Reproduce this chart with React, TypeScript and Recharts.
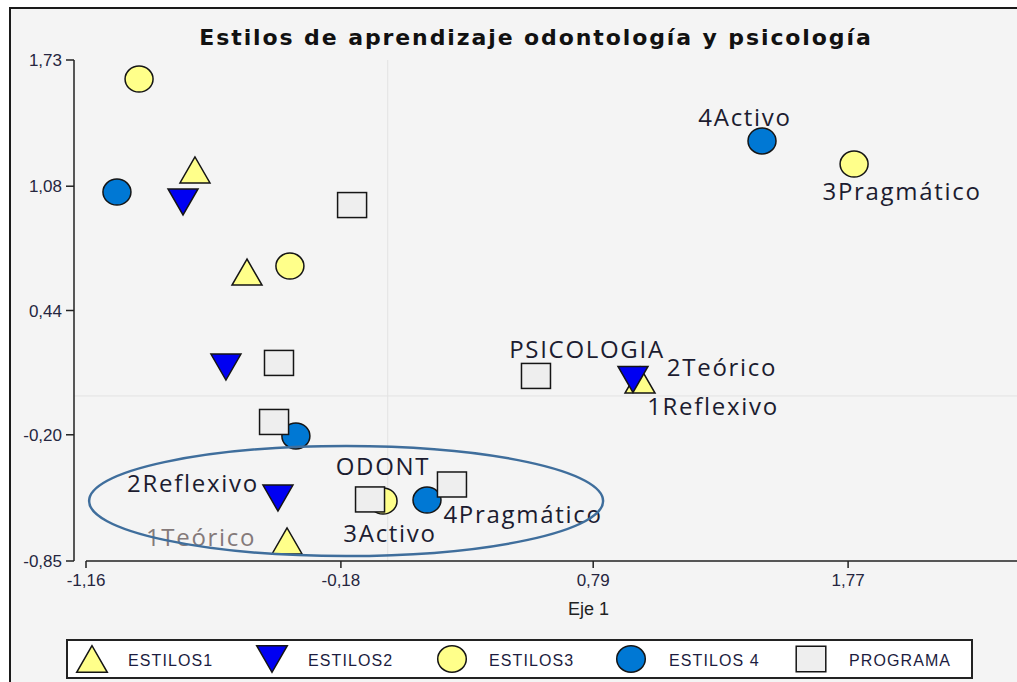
import React from 'react';
import { ScatterChart, Scatter, XAxis, YAxis, ReferenceLine, ReferenceDot } from 'recharts';

// ---------- data ----------
const xTicks = [-1.16, -0.18, 0.79, 1.77];
const yTicks = [1.73, 1.08, 0.44, -0.2, -0.85];

const estilos1X = [-0.741, -0.541, 0.97, -0.387];
const estilos1Y = [1.164, 0.638, 0.082, -0.747];
const estilos1Labels = ['', '', '1Reflexivo', '1Teórico'];

const estilos2X = [-0.787, -0.622, 0.943, -0.422];
const estilos2Y = [0.999, 0.149, 0.085, -0.526];
const estilos2Labels = ['', '', '2Teórico', '2Reflexivo'];

const estilos3X = [-0.956, -0.376, 1.793, -0.018];
const estilos3Y = [1.632, 0.669, 1.194, -0.541];
const estilos3Labels = ['', '', '3Pragmático', '3Activo'];

const estilos4X = [-1.041, 1.439, -0.353, 0.151];
const estilos4Y = [1.05, 1.313, -0.206, -0.536];
const estilos4Labels = ['', '4Activo', '', '4Pragmático'];

const programaX = [-0.137, -0.418, -0.437, 0.57, -0.068, 0.247];
const programaY = [0.983, 0.17, -0.134, 0.103, -0.533, -0.456];
const programaLabels = ['', '', '', 'PSICOLOGIA', 'ODONT', ''];

const seriesNames = ['ESTILOS1', 'ESTILOS2', 'ESTILOS3', 'ESTILOS 4', 'PROGRAMA'];

const ellipseCenter = { x: -0.16, y: -0.541 };

// ---------- styles ----------
const labelPlacement: Record<string, { dx: number; dy: number; color?: string }> = {
  '4Activo': { dx: -17, dy: -24 },
  '3Pragmático': { dx: 48, dy: 26 },
  PSICOLOGIA: { dx: 51, dy: -27 },
  '2Teórico': { dx: 89, dy: -13 },
  '1Reflexivo': { dx: 73, dy: 25 },
  ODONT: { dx: 13, dy: -34 },
  '2Reflexivo': { dx: -85, dy: -16 },
  '1Teórico': { dx: -86, dy: -4, color: '#857a7a' },
  '3Activo': { dx: 7, dy: 32 },
  '4Pragmático': { dx: 96, dy: 13 },
};

const YELLOW = '#FFFF8A';
const BLUE_TRI = '#0000F2';
const BLUE_CIRC = '#0078D4';
const GREY_SQ = '#EEEEEE';
const STROKE = '#151515';

type Kind = 'up' | 'down' | 'circle' | 'square';

const build = (xs: number[], ys: number[], labels: string[]) =>
  xs.map((x, i) => ({ x, y: ys[i], label: labels[i] }));

const markerPath = (kind: Kind, cx: number, cy: number, fill: string, scale = 1) => {
  const sw = 1.5;
  if (kind === 'up') {
    const w = 15 * scale, h = 13 * scale;
    return <polygon points={`${cx},${cy - h} ${cx - w},${cy + h} ${cx + w},${cy + h}`} fill={fill} stroke={STROKE} strokeWidth={sw} />;
  }
  if (kind === 'down') {
    const w = 15 * scale, h = 13 * scale;
    return <polygon points={`${cx - w},${cy - h} ${cx + w},${cy - h} ${cx},${cy + h}`} fill={fill} stroke={STROKE} strokeWidth={sw} />;
  }
  if (kind === 'circle') {
    return <ellipse cx={cx} cy={cy} rx={14 * scale} ry={13 * scale} fill={fill} stroke={STROKE} strokeWidth={sw} />;
  }
  return <rect x={cx - 14.5 * scale} y={cy - 12.5 * scale} width={29 * scale} height={25 * scale} fill={fill} stroke={STROKE} strokeWidth={sw} />;
};

const makeShape = (kind: Kind, fill: string) => (props: any) => {
  const { cx, cy } = props;
  const label: string = props.payload?.label ?? props.label ?? '';
  const place = label ? labelPlacement[label] : undefined;
  return (
    <g>
      {markerPath(kind, cx, cy, fill)}
      {place && (
        <text
          x={cx + place.dx}
          y={cy + place.dy}
          textAnchor="middle"
          dominantBaseline="central"
          fontFamily="'Open Sans', sans-serif"
          fontSize={24}
          letterSpacing={1.7}
          fill={place.color ?? '#1c1c30'}
        >
          {label}
        </text>
      )}
    </g>
  );
};

const fmt = (v: number) => v.toFixed(2).replace('.', ',');

const legendItems: { kind: Kind; fill: string; mx: number; tx: number }[] = [
  { kind: 'up', fill: YELLOW, mx: 92, tx: 128 },
  { kind: 'down', fill: BLUE_TRI, mx: 272, tx: 308 },
  { kind: 'circle', fill: YELLOW, mx: 452, tx: 489 },
  { kind: 'circle', fill: BLUE_CIRC, mx: 631, tx: 669 },
  { kind: 'square', fill: GREY_SQ, mx: 811, tx: 849 },
];

export default function App() {
  const e1 = build(estilos1X, estilos1Y, estilos1Labels);
  const e2 = build(estilos2X, estilos2Y, estilos2Labels);
  const e3 = build(estilos3X, estilos3Y, estilos3Labels);
  const e4 = build(estilos4X, estilos4Y, estilos4Labels);
  const pr = build(programaX, programaY, programaLabels);

  return (
    <div style={{ position: 'fixed', left: 0, top: 0, width: 1017, height: 682, overflow: 'hidden', background: '#fff' }}>
      <div
        style={{
          position: 'absolute', left: 9, top: 7, width: 1100, height: 700,
          border: '2px solid #1a1a1a', background: '#F4F4F4', boxSizing: 'border-box',
        }}
      />
      <div
        style={{
          position: 'absolute', left: 0, top: 25, width: 1072, textAlign: 'center',
          fontFamily: "'DejaVu Sans', Verdana, sans-serif", fontWeight: 'bold', fontSize: 22,
          letterSpacing: 1.9, color: '#111', whiteSpace: 'nowrap',
        }}
      >
        Estilos de aprendizaje odontología y psicología
      </div>
      <div style={{ position: 'absolute', left: 0, top: 0 }}>
        <ScatterChart width={1103} height={682} margin={{ top: 60, right: 0, bottom: 61, left: 0 }}>
          <XAxis
            type="number"
            dataKey="x"
            domain={[-1.16, 2.75]}
            ticks={xTicks}
            padding={{ left: 12, right: 0 }}
            allowDataOverflow
            axisLine={false}
            tickLine={{ stroke: '#222', strokeWidth: 1.5 }}
            tickSize={7}
            tickMargin={6}
            tickFormatter={fmt}
            tick={{ fill: '#262640', fontSize: 17, fontFamily: "'Liberation Sans', Arial, sans-serif" }}
            height={60}
            label={{ value: 'Eje 1', position: 'insideBottom', offset: 6, fill: '#222', fontSize: 18, fontFamily: "'Liberation Sans', Arial, sans-serif" }}
          />
          <YAxis
            type="number"
            dataKey="y"
            domain={[-0.85, 1.73]}
            ticks={yTicks}
            allowDataOverflow
            width={74}
            axisLine={{ stroke: '#222', strokeWidth: 1.5 }}
            tickLine={{ stroke: '#222', strokeWidth: 1.5 }}
            tickSize={8}
            tickMargin={4}
            tickFormatter={fmt}
            tick={{ fill: '#262640', fontSize: 17, fontFamily: "'Liberation Sans', Arial, sans-serif" }}
          />
          <ReferenceLine x={0} stroke="#e2e2e2" strokeWidth={1} />
          <ReferenceLine y={0} stroke="#e2e2e2" strokeWidth={1} />
          <ReferenceLine
            segment={[{ x: -1.16, y: -0.85 }, { x: 2.75, y: -0.85 }]}
            stroke="#222"
            strokeWidth={1.5}
          />
          <Scatter name={seriesNames[0]} data={e1} shape={makeShape('up', YELLOW)} isAnimationActive={false} />
          <Scatter name={seriesNames[1]} data={e2} shape={makeShape('down', BLUE_TRI)} isAnimationActive={false} />
          <Scatter name={seriesNames[2]} data={e3} shape={makeShape('circle', YELLOW)} isAnimationActive={false} />
          <Scatter name={seriesNames[3]} data={e4} shape={makeShape('circle', BLUE_CIRC)} isAnimationActive={false} />
          <Scatter name={seriesNames[4]} data={pr} shape={makeShape('square', GREY_SQ)} isAnimationActive={false} />
          <ReferenceDot
            x={ellipseCenter.x}
            y={ellipseCenter.y}
            shape={(p: any) => (
              <ellipse cx={p.cx} cy={p.cy} rx={257} ry={55} fill="none" stroke="#3F6E9C" strokeWidth={2.5} />
            )}
          />
        </ScatterChart>
      </div>
      <svg style={{ position: 'absolute', left: 0, top: 0 }} width={1017} height={682}>
        <rect x={67} y={640} width={905} height={38} fill="#fff" stroke="#222" strokeWidth={2} />
        {legendItems.map((it, i) => (
          <g key={i}>
            {markerPath(it.kind, it.mx, 659, it.fill, 1.02)}
            <text
              x={it.tx}
              y={660}
              dominantBaseline="central"
              fontFamily="'Liberation Sans', Arial, sans-serif"
              fontSize={16}
              letterSpacing={1.1}
              fill="#1c1c40"
            >
              {seriesNames[i]}
            </text>
          </g>
        ))}
      </svg>
    </div>
  );
}
